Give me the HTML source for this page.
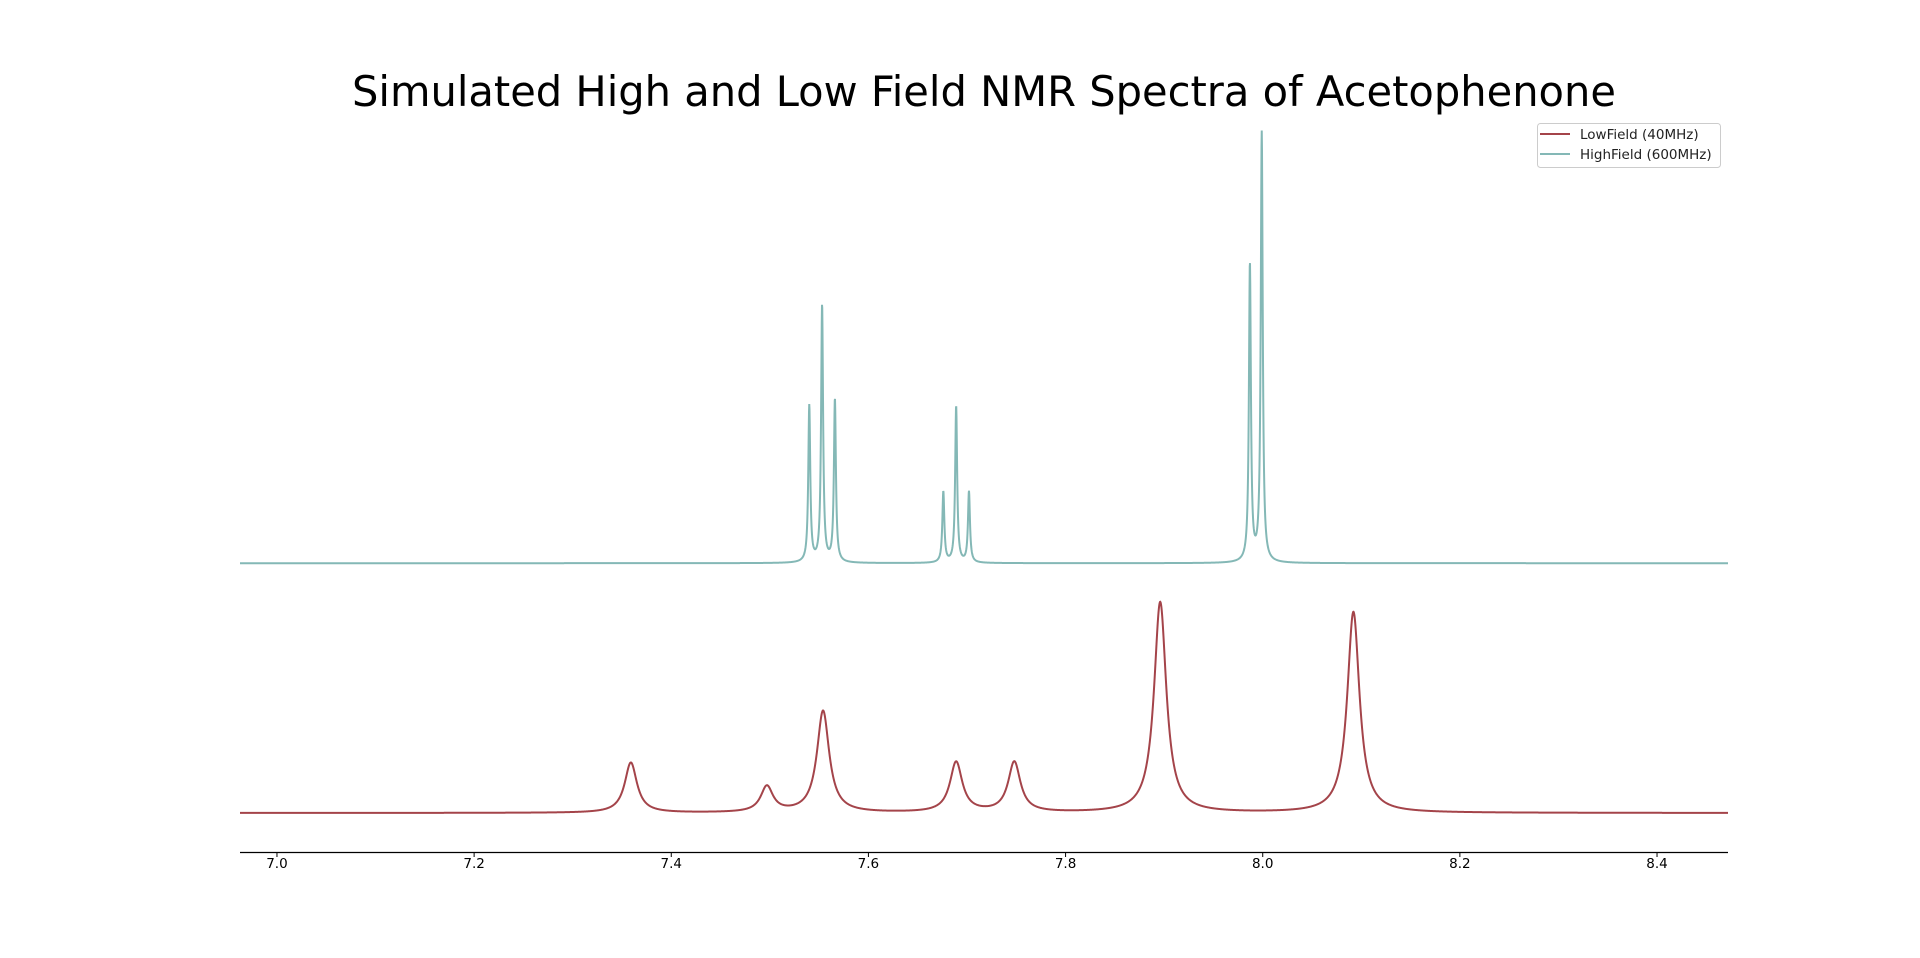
<!DOCTYPE html>
<html><head><meta charset="utf-8"><style>
html,body{margin:0;padding:0;background:#fff;}
svg{display:block;font-family:"DejaVu Sans","Liberation Sans",sans-serif;}
</style></head><body>
<svg id="chart" width="1920" height="958">
<text x="984" y="106" text-anchor="middle" font-size="41.6" fill="#000">Simulated High and Low Field NMR Spectra of Acetophenone</text>
<g id="plot"></g>
<line x1="240" y1="852.5" x2="1728" y2="852.5" stroke="#000" stroke-width="1.2"/>
<g id="ticks"></g>
<g>
<rect x="1537.5" y="123.5" width="183" height="44" rx="3" fill="#fff" stroke="#ccc"/>
<line x1="1540" y1="134" x2="1570" y2="134" stroke="#a4444a" stroke-width="2"/>
<text x="1580" y="139" font-size="13.5" fill="#222">LowField (40MHz)</text>
<line x1="1540" y1="154" x2="1570" y2="154" stroke="#84b8b6" stroke-width="2"/>
<text x="1580" y="159" font-size="13.5" fill="#222">HighField (600MHz)</text>
</g>
</svg>
<script>
const tickLabels = ["7.0","7.2","7.4","7.6","7.8","8.0","8.2","8.4"];
const tickValues = [7.0,7.2,7.4,7.6,7.8,8.0,8.2,8.4];
const lowPositions = [7.359,7.497,7.554,7.689,7.748,7.896,8.092];
const lowHeights = [41,21,83,41,41,172,164];
const lowWidth = 0.0075;
const highPositions = [7.540,7.553,7.566,7.676,7.689,7.702,7.987,7.999];
const highHeights = [128,210,133,58,128,58,243,351];
const highWidth = 0.0012;
const highOffset = 204;

const X0 = 6.9625, X1 = 8.472, PX0 = 240, PX1 = 1728;
function xs(v){ return PX0 + (v - X0) / (X1 - X0) * (PX1 - PX0); }
function ys(v){ return 813 - v * 1.2245; }
const NS = "http://www.w3.org/2000/svg";

function curve(pos, hts, w, off){
  let d = "";
  for (let px = PX0; px <= PX1; px += 0.25){
    const v = X0 + (px - PX0) / (PX1 - PX0) * (X1 - X0);
    let s = 0;
    for (let i = 0; i < pos.length; i++){
      const t = (v - pos[i]) / w;
      s += hts[i] / (1 + t * t);
    }
    d += (d ? "L" : "M") + xs(v).toFixed(2) + "," + ys(s + off).toFixed(2);
  }
  return d;
}
const plot = document.getElementById("plot");
const pl = document.createElementNS(NS, "path");
pl.setAttribute("d", curve(lowPositions, lowHeights, lowWidth, 0));
pl.setAttribute("fill", "none"); pl.setAttribute("stroke", "#a4444a"); pl.setAttribute("stroke-width", "2");


plot.appendChild(pl);
const ph = document.createElementNS(NS, "path");
ph.setAttribute("d", curve(highPositions, highHeights, highWidth, highOffset));
ph.setAttribute("fill", "none"); ph.setAttribute("stroke", "#84b8b6"); ph.setAttribute("stroke-width", "2");


plot.appendChild(ph);

const tg = document.getElementById("ticks");
tickValues.forEach((v, i) => {
  const l = document.createElementNS(NS, "line");
  l.setAttribute("x1", xs(v)); l.setAttribute("x2", xs(v));
  l.setAttribute("y1", 852); l.setAttribute("y2", 857);
  l.setAttribute("stroke", "#000");
  
  
  tg.appendChild(l);
  const t = document.createElementNS(NS, "text");
  t.setAttribute("x", xs(v)); t.setAttribute("y", 868);
  t.setAttribute("text-anchor", "middle"); t.setAttribute("font-size", "13.5");
  t.textContent = tickLabels[i];
  
  
  tg.appendChild(t);
});
</script>
</body></html>
